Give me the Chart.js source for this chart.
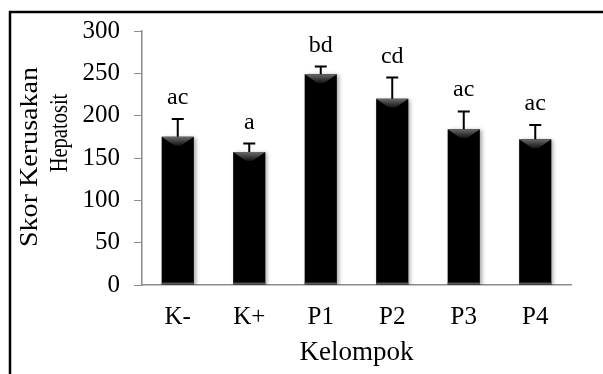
<!DOCTYPE html>
<html>
<head>
<meta charset="utf-8">
<script src="https://cdn.jsdelivr.net/npm/chart.js@4"></script>
<style>
  html, body { margin: 0; padding: 0; background: #fff; }
  #wrap { width: 603px; height: 374px; position: relative; }
</style>
</head>
<body>
<div id="wrap"><canvas id="myBarChart"></canvas></div>
<script>
var kelompok = ["K-", "K+", "P1", "P2", "P3", "P4"];
var skor = [175, 157, 249, 220, 184, 172];
var galat = [21, 10, 9, 25, 21, 17];
var notasi = ["ac", "a", "bd", "cd", "ac", "ac"];
var yTicks = [0, 50, 100, 150, 200, 250, 300];
var judulY = ["Skor Kerusakan", "Hepatosit"];

var serif = "'Liberation Serif', 'Times New Roman', serif";

// frame, y title, error bars, letters and bevel on bars
var extras = {
    id: "extras",
    beforeDraw: function (chart) {
        var c = chart.ctx;
        c.save();
        c.fillStyle = "#fff";
        c.fillRect(0, 0, chart.width, chart.height);
        c.strokeStyle = "#000";
        c.lineWidth = 2.5;
        c.beginPath();
        c.moveTo(chart.width, 12);
        c.lineTo(10, 12);
        c.lineTo(10, chart.height);
        c.stroke();

        // y axis title, two lines (rotated)
        c.fillStyle = "#000";
        c.textAlign = "center";
        c.textBaseline = "middle";
        c.font = "26px " + serif;
        c.save();
        c.translate(30, 157);
        c.rotate(-Math.PI / 2);
        c.scale(1.08, 1);
        c.fillText(judulY[0], 0, 0);
        c.restore();
        c.save();
        c.translate(60, 133);
        c.rotate(-Math.PI / 2);
        c.scale(0.82, 1);
        c.font = "25px " + serif;
        c.fillText(judulY[1], 0, 0);
        c.restore();
        c.restore();
    },
    beforeDatasetsDraw: function (chart) {
        var c = chart.ctx;
        c.save();
        c.shadowColor = "rgba(0,0,0,0.35)";
        c.shadowBlur = 4;
        c.shadowOffsetX = 2;
        c.shadowOffsetY = 1;
    },
    afterDatasetsDraw: function (chart) {
        var c = chart.ctx;
        c.restore();
        var meta = chart.getDatasetMeta(0);
        var y = chart.scales.y;
        c.save();
        meta.data.forEach(function (bar, i) {
            var half = bar.width / 2;
            // bevel at top of bar
            var g = c.createLinearGradient(0, bar.y, 0, bar.y + 9);
            g.addColorStop(0, "#6a6a6a");
            g.addColorStop(1, "#111");
            c.fillStyle = g;
            c.beginPath();
            c.moveTo(bar.x - half, bar.y);
            c.lineTo(bar.x + half, bar.y);
            c.lineTo(bar.x + 3, bar.y + 9);
            c.lineTo(bar.x - 3, bar.y + 9);
            c.closePath();
            c.fill();
            // grey at base
            c.fillStyle = "#555";
            c.fillRect(bar.x - half, bar.base - 2, bar.width, 2);

            // error bar (upper only)
            var top = y.getPixelForValue(skor[i] + galat[i]);
            c.strokeStyle = "#000";
            c.lineWidth = 2;
            c.beginPath();
            c.moveTo(bar.x, bar.y);
            c.lineTo(bar.x, top);
            c.moveTo(bar.x - 6, top);
            c.lineTo(bar.x + 6, top);
            c.stroke();

            // significance letters
            c.fillStyle = "#000";
            c.font = "24px " + serif;
            c.textAlign = "center";
            c.textBaseline = "alphabetic";
            c.fillText(notasi[i], bar.x, top - 15);
        });
        c.restore();
    }
};

var ctx = document.getElementById("myBarChart");
var myBarChart = new Chart(ctx, {
    type: "bar",
    data: {
        labels: kelompok,
        datasets: [{
            data: skor,
            backgroundColor: "#000",
            borderWidth: 0,
            barPercentage: 1,
            categoryPercentage: 0.45
        }]
    },
    options: {
        responsive: true,
        maintainAspectRatio: false,
        animation: false,
        events: [],
        layout: { padding: { top: 31, right: 32, bottom: 0, left: 0 } },
        plugins: {
            legend: { display: false },
            tooltip: { enabled: false }
        },
        scales: {
            x: {
                grid: { display: false },
                border: { color: "#8c8c8c", width: 1.5 },
                ticks: { color: "#000", font: { family: serif, size: 25 }, padding: 9, maxRotation: 0 },
                title: {
                    display: true,
                    text: "Kelompok",
                    color: "#000",
                    font: { family: serif, size: 27, lineHeight: 1.2 },
                    padding: { top: 0, bottom: 5 }
                },
                afterFit: function (scale) { scale.height = 89; }
            },
            y: {
                min: 0,
                max: 300,
                afterBuildTicks: function (scale) {
                    scale.ticks = yTicks.map(function (v) { return { value: v }; });
                },
                grid: { drawOnChartArea: false, drawTicks: true, tickLength: 8, color: "#8c8c8c" },
                border: { color: "#8c8c8c", width: 1.5 },
                ticks: { color: "#000", font: { family: serif, size: 25 }, padding: 14 },
                afterFit: function (scale) { scale.width = 142; }
            }
        }
    },
    plugins: [extras]
});
</script>
</body>
</html>
